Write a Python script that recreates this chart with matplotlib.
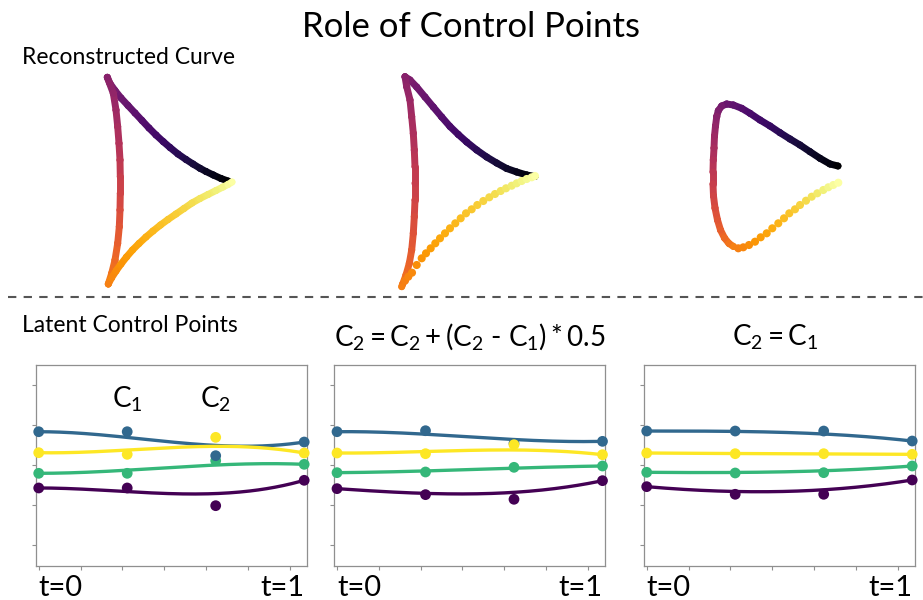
import numpy as np
import matplotlib
matplotlib.use("Agg")
import matplotlib.pyplot as plt
from matplotlib.collections import LineCollection
from matplotlib.lines import Line2D

plt.rcParams['font.family'] = ['Lato', 'DejaVu Sans']
plt.rcParams['mathtext.fontset'] = 'custom'
plt.rcParams['mathtext.rm'] = 'Lato'
plt.rcParams['mathtext.it'] = 'Lato:italic'
plt.rcParams['mathtext.bf'] = 'Lato:bold'

# ---------------- data: latent control points (4 channels x 4 control points) -------------
N_SAMPLES = 128
ctrl_x = [0, 127 / 3, 254 / 3, 127]
channel_colors = ['#440154', '#35b779', '#31688e', '#fde725']   # purple, green, blue, yellow

p1_purple = [-0.575, -0.575, -1.018, -0.383]
p1_green = [-0.208, -0.208, 0.108, 0.017]
p1_blue = [0.833, 0.833, 0.233, 0.575]
p1_yellow = [0.308, 0.267, 0.692, 0.300]

p2_purple = [-0.592, -0.742, -0.858, -0.392]
p2_green = [-0.192, -0.175, -0.058, -0.025]
p2_blue = [0.833, 0.858, 0.542, 0.592]
p2_yellow = [0.300, 0.283, 0.508, 0.258]

p3_purple = [-0.542, -0.733, -0.733, -0.375]
p3_green = [-0.183, -0.200, -0.192, -0.025]
p3_blue = [0.850, 0.850, 0.850, 0.600]
p3_yellow = [0.300, 0.283, 0.283, 0.267]

panel_titles = ['Latent Control Points',
                r'$\mathrm{C}_2 = \mathrm{C}_2 + (\mathrm{C}_2$ - $\mathrm{C}_1) * 0.5$',
                r'$\mathrm{C}_2 = \mathrm{C}_1$']
ytick_vals = [-2, -1, 0, 1, 2]
xtick_vals = [0, 20, 40, 60, 80, 100, 120]

# ---------------- data: reconstructed curves (canvas units), split into arcs ---------------
# curve 1
c1_top_x = [228, 221, 213.3, 206, 200, 193, 186, 178, 170, 163.3, 156, 149, 142, 135, 128, 121, 115, 110, 107.3]
c1_top_y = [181, 178.5, 175, 171.5, 168.3, 164, 159.5, 154, 147.5, 141.7, 135, 128, 120.5, 113, 105.5, 98, 90.5, 83.5, 77.3]
c1_left_x = [107.3, 113.3, 116, 117.7, 119, 120, 120.3, 120.3, 120, 119.3, 117.7, 115, 111.7, 108.3]
c1_left_y = [77.3, 93.3, 110, 126.7, 143.3, 160, 176.7, 193.3, 210, 226.7, 243.3, 260, 273.3, 284]
c1_bot_x = [108.3, 111.5, 116, 121, 126.5, 132.5, 139, 146, 153, 160.5, 168, 176, 184, 192, 200, 208, 216, 223, 228, 232]
c1_bot_y = [284, 278, 271, 264, 257, 250, 243.5, 237, 231, 225, 219.5, 214, 208.5, 203, 198.5, 194.5, 190.5, 187, 184.5, 182]
# curve 2
c2_top_x = [535, 526.7, 516.7, 506.7, 496.7, 486.7, 476.7, 466.7, 458.3, 450, 441.7, 433.3, 425, 416.7, 410, 405]
c2_top_y = [176.5, 175, 172, 168.5, 163, 157, 150, 142, 134.5, 126.5, 117, 107, 97, 87, 80, 76.7]
c2_left_x = [405, 406.7, 410, 411.7, 413.3, 414.3, 415, 415, 415, 414.3, 413.3, 411.7, 409.3, 406, 402.7, 401.7]
c2_left_y = [76.7, 86.7, 100, 116.7, 133.3, 150, 166.7, 183.3, 200, 216.7, 233.3, 250, 263.3, 275, 284, 286.7]
c2_bot_x = [405, 408.3, 412, 416.7, 421.7, 426, 430.7, 435.3, 440, 445, 450, 455.3, 460.7, 466, 471.7,
            477.3, 483.3, 489.3, 495, 500.7, 506, 511.7, 516.7, 521.7, 526.7, 531.7, 535]
c2_bot_y = [280.7, 276.7, 272.7, 265, 258.3, 253.3, 248.3, 243.3, 238.3, 233.3, 228.3, 223.3, 218.3, 213.3, 209.3,
            205, 201, 197.3, 194, 191, 188.3, 185.7, 183.3, 181, 179, 177.3, 176]
# curve 3
c3_top_x = [838, 830, 820, 810, 800, 790, 780, 770, 760, 750, 741.7, 733.3, 726.7, 721.7, 718.3, 716.7]
c3_top_y = [166, 164, 158.3, 151.7, 145, 139, 132.7, 126, 120, 113.3, 108.3, 105, 104, 106, 110.7, 116.7]
c3_left_x = [716.7, 715.5, 714.5, 714, 713.3, 713, 713, 713.5, 715, 717.5, 720.5, 724.5, 729, 733.5]
c3_left_y = [116.7, 126, 136, 148, 160, 172, 184, 196, 208, 220, 230, 238, 243.5, 246.5]
c3_bot_x = [738.3, 743.3, 749, 755, 760.7, 766.7, 772.3, 778.3, 784, 789.3, 795, 800, 806, 811.7, 817.3,
            823.3, 828.3, 833.3, 838.3]
c3_bot_y = [248.3, 247.3, 245, 241.7, 237.3, 233.3, 228.3, 223.3, 218.3, 213.3, 209.3, 205, 200.7, 196.7, 193.3,
            190, 187.3, 185, 182.7]

# parameter (colour) range of each arc and whether dots merge into a solid stroke
arc_t = [(0.0, 0.37), (0.37, 0.72), (0.72, 1.0)]
c1_solid = [True, True, True]
c2_solid = [True, True, False]
c3_solid = [True, True, False]

W, H = 923, 600
fig = plt.figure(figsize=(W / 100, H / 100), dpi=100)

# ---------------- top: reconstructed curves ----------------
cmap = plt.get_cmap('inferno')
ax_top = fig.add_axes([0, 0, 1, 1])
ax_top.set_xlim(0, W)
ax_top.set_ylim(H, 0)
ax_top.axis('off')

LW_CURVE = 5.0
S_DOT = 34


def draw_arc(ax, xs, ys, t0, t1, solid, z):
    xs = np.asarray(xs, float)
    ys = np.asarray(ys, float)
    tt = np.linspace(t0, t1, len(xs))
    if solid:
        pts = np.column_stack([xs, ys])
        segs = np.stack([pts[:-1], pts[1:]], axis=1)
        lc = LineCollection(segs, colors=cmap((tt[:-1] + tt[1:]) / 2), linewidths=LW_CURVE,
                            capstyle='round', joinstyle='round', zorder=z)
        ax.add_collection(lc)
        ax.scatter(xs, ys, s=LW_CURVE ** 2, c=cmap(tt), edgecolors='none', zorder=z + 0.5)
    else:
        ax.scatter(xs, ys, s=S_DOT, c=cmap(tt), edgecolors='none', zorder=z + 0.5)


curves = [
    ([c1_top_x, c1_left_x, c1_bot_x], [c1_top_y, c1_left_y, c1_bot_y], c1_solid),
    ([c2_top_x, c2_left_x, c2_bot_x], [c2_top_y, c2_left_y, c2_bot_y], c2_solid),
    ([c3_top_x, c3_left_x, c3_bot_x], [c3_top_y, c3_left_y, c3_bot_y], c3_solid),
]
for xs_list, ys_list, solids in curves:
    for k, (xs, ys, sol) in enumerate(zip(xs_list, ys_list, solids)):
        draw_arc(ax_top, xs, ys, arc_t[k][0], arc_t[k][1], sol, 2 + k)

# ---------------- bottom: control point panels ----------------
def bezier(P, n):
    t = np.linspace(0, 1, n)
    P = np.asarray(P, float)
    return ((1 - t) ** 3 * P[0] + 3 * (1 - t) ** 2 * t * P[1]
            + 3 * (1 - t) * t ** 2 * P[2] + t ** 3 * P[3])


panels = [
    [p1_purple, p1_green, p1_blue, p1_yellow],
    [p2_purple, p2_green, p2_blue, p2_yellow],
    [p3_purple, p3_green, p3_blue, p3_yellow],
]
ax_left_px = [36, 334.3, 644]
ax_w_px = 270.7
ax_top_px, ax_bot_px = 364.7, 565.7
spine_col = '#8f8f8f'

axes = []
for i, series in enumerate(panels):
    ax = fig.add_axes([ax_left_px[i] / W, 1 - ax_bot_px / H, ax_w_px / W, (ax_bot_px - ax_top_px) / H])
    xs_curve = bezier(ctrl_x, N_SAMPLES)
    for vals, col in zip(series, channel_colors):
        ax.plot(xs_curve, bezier(vals, N_SAMPLES), color=col, lw=2.4, solid_capstyle='round', zorder=2)
        ax.scatter(ctrl_x, vals, s=60, color=col, edgecolors='none', zorder=3, clip_on=False)
    ax.set_xlim(-1.3, 128.2)
    ax.set_ylim(-2.52, 2.51)
    ax.set_xticks(xtick_vals)
    ax.set_yticks(ytick_vals)
    ax.set_xticklabels([])
    ax.set_yticklabels([])
    ax.tick_params(direction='out', length=3, width=0.8, color=spine_col)
    for sp in ax.spines.values():
        sp.set_color(spine_col)
        sp.set_linewidth(0.9)
    ax.text(0, -0.151, 't=0', transform=ax.get_xaxis_transform(), ha='left', va='baseline', fontsize=21)
    ax.text(127, -0.151, 't=1', transform=ax.get_xaxis_transform(), ha='right', va='baseline', fontsize=21)
    axes.append(ax)

axes[0].text(ctrl_x[1], 1.43, r'$\mathrm{C}_1$', ha='center', va='baseline', fontsize=20)
axes[0].text(ctrl_x[2], 1.43, r'$\mathrm{C}_2$', ha='center', va='baseline', fontsize=20)

# ---------------- text ----------------
fig.text(471 / W, 1 - 37 / H, 'Role of Control Points', ha='center', va='baseline', fontsize=25)
fig.text(22 / W, 1 - 64 / H, 'Reconstructed Curve', ha='left', va='baseline', fontsize=16.5)
fig.text(22 / W, 1 - 332 / H, panel_titles[0], ha='left', va='baseline', fontsize=16.5)
fig.text(470 / W, 1 - 346 / H, panel_titles[1], ha='center', va='baseline', fontsize=20)
fig.text(775 / W, 1 - 346 / H, panel_titles[2], ha='center', va='baseline', fontsize=20)

fig.add_artist(Line2D([8 / W, 1.0], [1 - 297 / H, 1 - 297 / H], transform=fig.transFigure,
                      color='#555555', lw=1.5, linestyle=(0, (4, 3.5))))

fig.savefig('out.png', dpi=100)
